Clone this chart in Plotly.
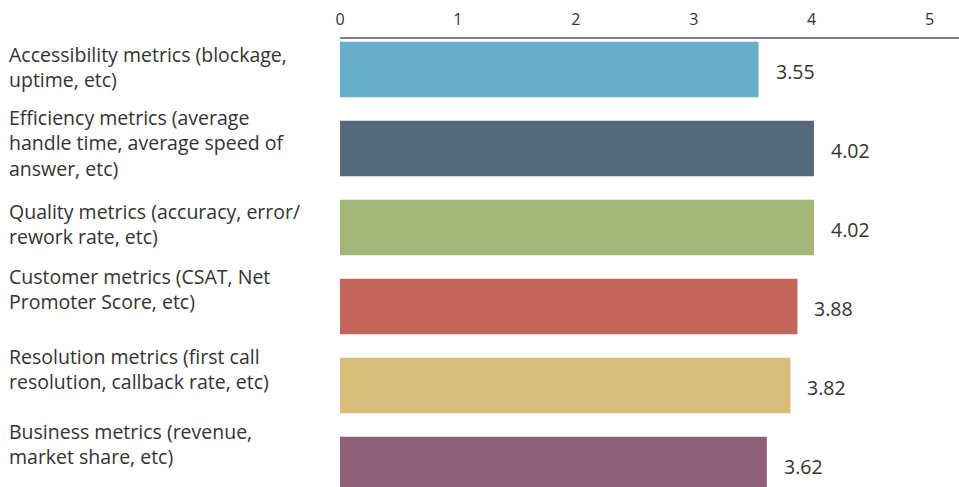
import plotly.graph_objects as go

# Scores per metric category (0–5 scale)
categories = [
    "Accessibility metrics (blockage,<br>uptime, etc)",
    "Efficiency metrics (average<br>handle time, average speed of<br>answer, etc)",
    "Quality metrics (accuracy, error/<br>rework rate, etc)",
    "Customer metrics (CSAT, Net<br>Promoter Score, etc)",
    "Resolution metrics (first call<br>resolution, callback rate, etc)",
    "Business metrics (revenue,<br>market share, etc)",
]
scores = [3.55, 4.02, 4.02, 3.88, 3.82, 3.62]
tick_values = [0, 1, 2, 3, 4, 5]

bar_colors = ["#67AECB", "#546979", "#A3B577", "#C4655A", "#D9BC78", "#8F5E77"]
label_yshift = [2, 5, 3, 17, 16, 20]

TEXT = "#333333"
FONT = "Open Sans, sans-serif"

positions = list(range(len(categories)))

fig = go.Figure(
    go.Bar(
        x=scores,
        y=positions,
        orientation="h",
        width=0.7,
        marker=dict(color=bar_colors, line=dict(width=0)),
        hoverinfo="skip",
    )
)

# value labels to the right of each bar
for pos, val in zip(positions, scores):
    fig.add_annotation(
        x=val, y=pos, xref="x", yref="y",
        text=f"{val:.2f}", showarrow=False,
        xanchor="left", yanchor="middle", xshift=15, yshift=-2,
        font=dict(family=FONT, size=19.5, color=TEXT),
    )

# left-aligned category labels
for pos, cat, ys in zip(positions, categories, label_yshift):
    fig.add_annotation(
        x=-333 / 619, y=pos, xref="paper", yref="y",
        text=cat, showarrow=False, align="left",
        xanchor="left", yanchor="middle", yshift=ys,
        font=dict(family=FONT, size=19.5, color=TEXT),
    )

fig.update_layout(
    width=959, height=487,
    margin=dict(l=340, r=0, t=39, b=0),
    plot_bgcolor="white", paper_bgcolor="white",
    showlegend=False,
    xaxis=dict(
        side="top", range=[0, 5.25],
        tickvals=tick_values, ticktext=[str(t) for t in tick_values],
        showgrid=False, zeroline=False,
        showline=True, linecolor="#7f7f7f", linewidth=2,
        ticks="", ticklabelstandoff=6,
        tickfont=dict(family=FONT, size=16, color=TEXT),
    ),
    yaxis=dict(
        range=[5.285, -0.386], visible=False,
        showgrid=False, zeroline=False,
    ),
)

fig.write_html("out.html")
